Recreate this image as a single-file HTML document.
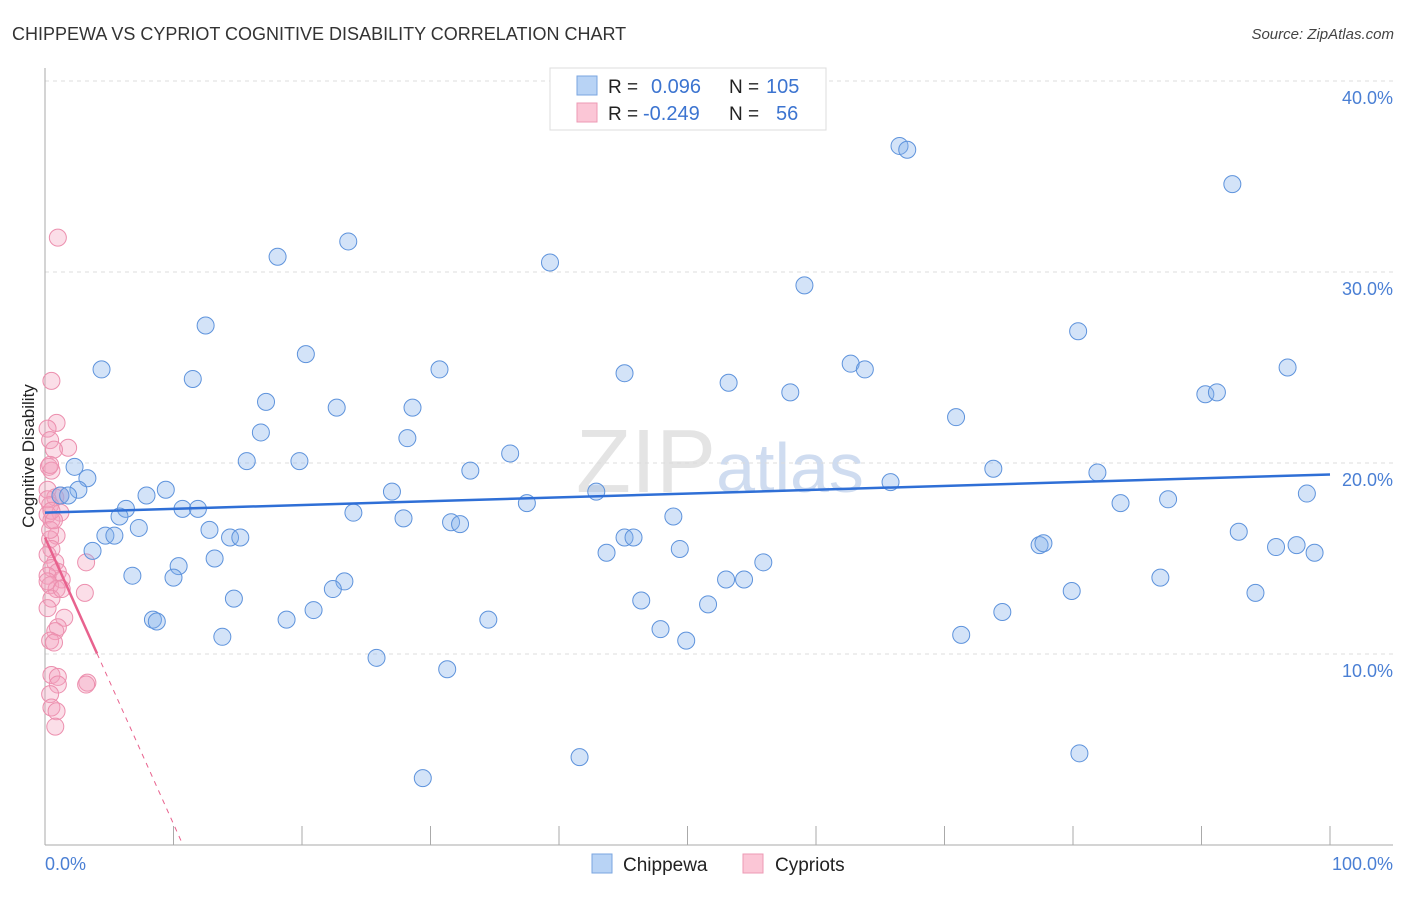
<!DOCTYPE html>
<html><head><meta charset="utf-8"><style>
body{margin:0;background:#fff;font-family:"Liberation Sans",sans-serif;}
svg text{font-family:"Liberation Sans",sans-serif;}
</style></head><body>
<svg id="chart" width="1406" height="892" xmlns="http://www.w3.org/2000/svg">
<text x="12" y="40" font-size="18" fill="#333">CHIPPEWA VS CYPRIOT COGNITIVE DISABILITY CORRELATION CHART</text>
<text x="1394" y="39" font-size="15" fill="#444" text-anchor="end" font-style="italic">Source: ZipAtlas.com</text>
<text x="720" y="492" font-size="90" fill="#e4e4e4" text-anchor="middle" font-family="Liberation Serif">ZIP<tspan fill="#cfdcf0" font-family="Liberation Sans" font-size="70">atlas</tspan></text>
<g id="grid"></g><g id="axes"></g><g id="pink"></g><g id="blue"></g><g id="trend"></g>
<text transform="translate(34,456) rotate(-90)" font-size="17" fill="#222" text-anchor="middle">Cognitive Disability</text>
<text x="45" y="870" font-size="18" fill="#4a7fd4">0.0%</text>
<text x="1393" y="870" font-size="18" fill="#4a7fd4" text-anchor="end">100.0%</text>
<g>
<rect x="550" y="68" width="276" height="62" fill="#fff" stroke="#ddd"/>
<rect x="577" y="76" width="20" height="19" fill="#b8d3f5" stroke="#7aa6e0"/>
<rect x="577" y="103" width="20" height="19" fill="#fbc6d6" stroke="#ec9ab4"/>
<text x="608" y="93" font-size="19" fill="#222">R =</text>
<text x="651" y="93" font-size="20" fill="#3c74d0">0.096</text>
<text x="729" y="93" font-size="19" fill="#222">N =</text>
<text x="766" y="93" font-size="20" fill="#3c74d0">105</text>
<text x="608" y="120" font-size="19" fill="#222">R =</text>
<text x="643" y="120" font-size="20" fill="#3c74d0">-0.249</text>
<text x="729" y="120" font-size="19" fill="#222">N =</text>
<text x="776" y="120" font-size="20" fill="#3c74d0">56</text>
</g>
<g>
<rect x="592" y="854" width="20" height="19" fill="#b8d3f5" stroke="#7aa6e0"/>
<text x="623" y="871" font-size="19" fill="#222">Chippewa</text>
<rect x="743" y="854" width="20" height="19" fill="#fbc6d6" stroke="#ec9ab4"/>
<text x="775" y="871" font-size="19" fill="#222">Cypriots</text>
</g>
</svg>
<script>
const yTicks=[10,20,30,40];
const yTickLabels=["10.0%","20.0%","30.0%","40.0%"];
const xTicks=[10,20,30,40,50,60,70,80,90,100];
const blueX=[66.5,67.1,92.4,23.6,18.1,39.3,59.1,12.5,80.4,20.3,4.4,30.7,62.7,63.8,96.7,11.5,45.1,53.2,58.0,90.3,91.2,17.2,22.7,28.6,70.9,16.8,28.2,36.2,15.7,19.8,33.1,73.8,81.9,2.3,3.3,2.6,9.4,65.8,27.0,42.9,1.2,1.8,7.9,98.2,87.4,37.5,83.7,6.3,10.7,11.9,24.0,5.8,48.9,27.9,31.6,32.3,7.3,12.8,4.7,5.4,14.4,15.2,45.1,45.8,92.9,77.4,77.7,95.8,97.4,98.8,3.7,49.4,43.7,13.2,55.9,10.4,6.8,10.0,23.3,53.0,54.4,86.8,22.4,14.7,46.4,79.9,94.2,51.6,20.9,74.5,18.8,8.4,8.7,34.5,47.9,13.8,49.9,71.3,25.8,31.3,41.6,29.4,80.5];
const blueY=[36.6,36.4,34.6,31.6,30.8,30.5,29.3,27.2,26.9,25.7,24.9,24.9,25.2,24.9,25.0,24.4,24.7,24.2,23.7,23.6,23.7,23.2,22.9,22.9,22.4,21.6,21.3,20.5,20.1,20.1,19.6,19.7,19.5,19.8,19.2,18.6,18.6,19.0,18.5,18.5,18.3,18.3,18.3,18.4,18.1,17.9,17.9,17.6,17.6,17.6,17.4,17.2,17.2,17.1,16.9,16.8,16.6,16.5,16.2,16.2,16.1,16.1,16.1,16.1,16.4,15.7,15.8,15.6,15.7,15.3,15.4,15.5,15.3,15.0,14.8,14.6,14.1,14.0,13.8,13.9,13.9,14.0,13.4,12.9,12.8,13.3,13.2,12.6,12.3,12.2,11.8,11.8,11.7,11.8,11.3,10.9,10.7,11.0,9.8,9.2,4.6,3.5,4.8];
const pinkX=[1.0,0.5,0.9,0.2,0.4,1.8,0.7,0.3,0.5,0.2,0.8,0.4,1.2,0.2,0.5,0.9,0.4,0.5,0.2,0.8,0.5,3.2,1.0,1.3,0.2,0.4,0.9,0.5,3.1,1.5,1.0,0.8,0.4,0.7,0.5,1.0,1.0,3.3,3.2,0.4,0.5,0.9,0.8,0.2,0.4,0.2,0.5,1.2,1.3,0.2,0.4,0.7];
const pinkY=[31.8,24.3,22.1,21.8,21.2,20.8,20.7,19.8,19.6,18.6,18.2,17.8,17.4,17.3,17.0,16.2,16.0,15.5,15.2,14.8,14.5,14.8,14.3,13.9,14.1,13.6,13.4,12.9,13.2,11.9,11.4,11.2,10.7,10.6,8.9,8.8,8.4,8.5,8.4,7.9,7.2,7.0,6.2,13.8,16.5,18.1,17.5,18.3,13.4,12.4,19.9,17.0];
const blueTrend=[17.4,19.4]; // at x=0 and x=100
const pinkTrend=[16.1,-1.5]; // intercept, slope per %
const X=v=>45+v*12.85, Y=v=>845-v*19.1;
const NS="http://www.w3.org/2000/svg";
function mk(tag,attrs,parent){const e=document.createElementNS(NS,tag);for(const k in attrs)e.setAttribute(k,attrs[k]);document.getElementById(parent).appendChild(e);return e;}
yTicks.forEach((t,i)=>{
 const g=mk('line',{x1:45,x2:1393,y1:Y(t),y2:Y(t),stroke:'#ddd','stroke-dasharray':'4,4'},'grid');
 
 
 const l=mk('text',{x:1393,y:Y(t)+23,'font-size':18,fill:'#4a7fd4','text-anchor':'end'},'grid');
 l.textContent=yTickLabels[i];
 
 
});
const ya=mk('line',{x1:45,x2:45,y1:68,y2:845,stroke:'#aaa'},'axes');


const xa=mk('line',{x1:45,x2:1393,y1:845,y2:845,stroke:'#aaa'},'axes');


xTicks.forEach(t=>{
 const k=mk('line',{x1:X(t),x2:X(t),y1:826,y2:845,stroke:'#aaa'},'axes');
 
 
});
pinkX.forEach((x,i)=>{
 const c=mk('circle',{cx:X(x),cy:Y(pinkY[i]),r:8.5,fill:'rgba(244,160,188,0.35)',stroke:'#ec8fae','stroke-width':1},'pink');
 
 
});
blueX.forEach((x,i)=>{
 const c=mk('circle',{cx:X(x),cy:Y(blueY[i]),r:8.5,fill:'rgba(130,175,235,0.35)',stroke:'#5e93dc','stroke-width':1},'blue');
 
 
});
const bt=mk('line',{x1:X(0),y1:Y(blueTrend[0]),x2:X(100),y2:Y(blueTrend[1]),stroke:'#2f6fd6','stroke-width':2.5},'trend');


const pEnd=4.05, pZero=-pinkTrend[0]/pinkTrend[1];
const pt=mk('line',{x1:X(0),y1:Y(pinkTrend[0]),x2:X(pEnd),y2:Y(pinkTrend[0]+pinkTrend[1]*pEnd),stroke:'#e8628e','stroke-width':2.5},'trend');


const pd=mk('line',{x1:X(pEnd),y1:Y(pinkTrend[0]+pinkTrend[1]*pEnd),x2:X(pZero),y2:Y(0),stroke:'#e8628e','stroke-width':1,'stroke-dasharray':'5,5'},'trend');


</script>
</body></html>
